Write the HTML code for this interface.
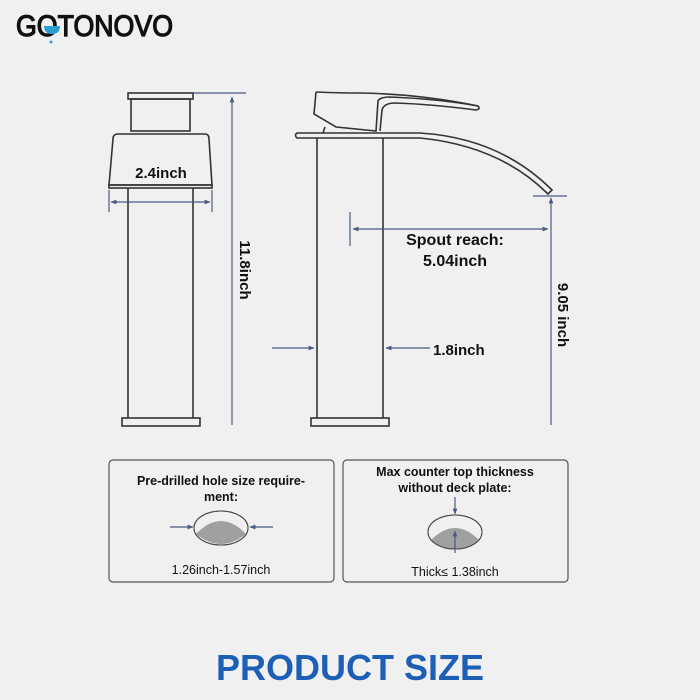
<!DOCTYPE html>
<html><head><style>
body{margin:0;background:#f0f0f0;}
svg{display:block}
text{font-family:"Liberation Sans",sans-serif;}
</style></head><body>
<svg width="700" height="700" viewBox="0 0 700 700" xmlns="http://www.w3.org/2000/svg">
<rect width="700" height="700" fill="#f0f0f0"/>
<defs>
<marker id="a" viewBox="0 0 10 10" refX="9" refY="5" markerWidth="5" markerHeight="5" orient="auto-start-reverse"><path d="M0,1 L10,5 L0,9 z" fill="#4a5a80"/></marker>
</defs>
<!-- logo -->
<text x="16" y="36" font-size="30" fill="#111" stroke="#111" stroke-width="1.3" textLength="157" lengthAdjust="spacingAndGlyphs">GOTONOVO</text>
<path d="M44,26 L60,26 Q60,34 52,34 Q44,34 44,26 Z" fill="#2b9fd0"/>
<circle cx="51" cy="42" r="1.5" fill="#2b9fd0"/>

<g fill="none" stroke="#333" stroke-width="1.6">
<rect x="128" y="93" width="65" height="6"/>
<rect x="131" y="99" width="59" height="32"/>
<path d="M118,134 L205,134 Q209,134 209,139 L212,185 L109,185 L113,139 Q113,134 118,134 Z"/>
<rect x="109" y="185" width="103" height="3"/>
<line x1="128" y1="188" x2="128" y2="418"/>
<line x1="193" y1="188" x2="193" y2="418"/>
<rect x="122" y="418" width="78" height="8"/>
<path d="M316,92 L314,114 L336,127 L376,131 L378,101 Q380,97 390,97 Q440,99 478,106 Q481,109 476,110 Q430,104 395,103 Q384,103 382,110 L380,131"/>
<path d="M316,92 Q340,93 360,93 Q420,94 478,106"/>
<path d="M325,127 L323,133"/>
<path d="M297,133 L420,133 Q500,138 552,190 L548,194 Q500,146 420,138 L297,138 Q294,135 297,133 Z"/>
<line x1="317" y1="138" x2="317" y2="418"/>
<line x1="383" y1="138" x2="383" y2="418"/>
<rect x="311" y="418" width="78" height="8"/>
</g>

<g stroke="#4a5a80" stroke-width="1.2" fill="none">
<line x1="193" y1="93" x2="246" y2="93"/>
<line x1="232" y1="97" x2="232" y2="425" marker-start="url(#a)"/>
<line x1="109" y1="190" x2="109" y2="212"/>
<line x1="212" y1="190" x2="212" y2="212"/>
<line x1="111" y1="202" x2="210" y2="202" marker-start="url(#a)" marker-end="url(#a)"/>
<line x1="350" y1="212" x2="350" y2="246"/>
<line x1="353" y1="229" x2="548" y2="229" marker-start="url(#a)" marker-end="url(#a)"/>
<line x1="533" y1="196" x2="567" y2="196"/>
<line x1="551" y1="198" x2="551" y2="425" marker-start="url(#a)"/>
<line x1="272" y1="348" x2="314" y2="348" marker-end="url(#a)"/>
<line x1="430" y1="348" x2="386" y2="348" marker-end="url(#a)"/>
</g>

<g font-weight="bold" fill="#111" font-size="15">
<text x="161" y="178" text-anchor="middle">2.4inch</text>
<text transform="translate(240,270) rotate(90)" text-anchor="middle">11.8inch</text>
<text x="455" y="245" text-anchor="middle" font-size="16">Spout reach:</text>
<text x="455" y="266" text-anchor="middle" font-size="16">5.04inch</text>
<text transform="translate(558,315) rotate(90)" text-anchor="middle">9.05 inch</text>
<text x="433" y="355">1.8inch</text>
</g>

<rect x="109" y="460" width="225" height="122" rx="4" fill="none" stroke="#555" stroke-width="1.2"/>
<rect x="343" y="460" width="225" height="122" rx="4" fill="none" stroke="#555" stroke-width="1.2"/>
<g font-weight="bold" fill="#111" font-size="12.5" text-anchor="middle">
<text x="221" y="485">Pre-drilled hole size require-</text>
<text x="221" y="501">ment:</text>
<text x="455" y="476">Max counter top thickness</text>
<text x="455" y="492">without deck plate:</text>
</g>
<g fill="#111" font-size="12.5" text-anchor="middle">
<text x="221" y="574">1.26inch-1.57inch</text>
<text x="455" y="576">Thick≤ 1.38inch</text>
</g>
<ellipse cx="221" cy="528" rx="27" ry="17" fill="#f0f0f0" stroke="#444"/>
<path d="M196,534 Q221,508 246,534 Q221,554 196,534 Z" fill="#a0a0a0"/>
<ellipse cx="221" cy="528" rx="27" ry="17" fill="none" stroke="#444"/>
<ellipse cx="455" cy="532" rx="27" ry="17" fill="#f0f0f0" stroke="#444"/>
<path d="M431,540 Q455,516 479,540 Q455,558 431,540 Z" fill="#a0a0a0"/>
<ellipse cx="455" cy="532" rx="27" ry="17" fill="none" stroke="#444"/>
<g stroke="#4a5a80" stroke-width="1.2">
<line x1="170" y1="527" x2="193" y2="527" marker-end="url(#a)"/>
<line x1="273" y1="527" x2="250" y2="527" marker-end="url(#a)"/>
<line x1="455" y1="497" x2="455" y2="514" marker-end="url(#a)"/>
<line x1="455" y1="553" x2="455" y2="531" marker-end="url(#a)"/>
</g>

<text x="350" y="680" text-anchor="middle" font-size="36" font-weight="bold" fill="#1d5fb5">PRODUCT SIZE</text>
</svg>
</body></html>
